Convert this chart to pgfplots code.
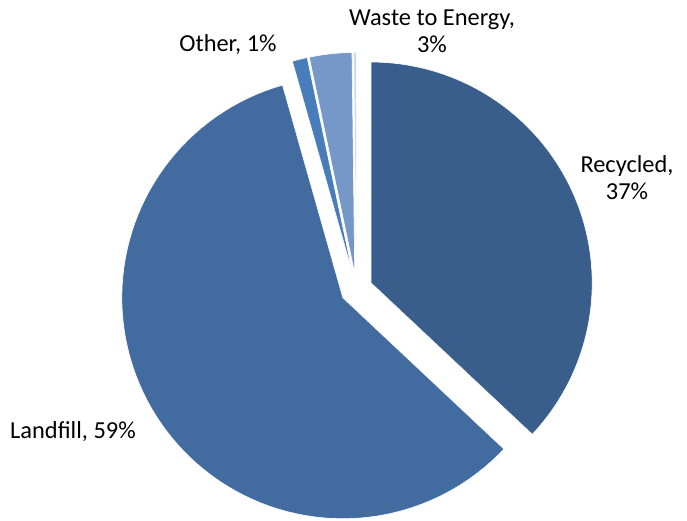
\documentclass[border=0pt]{standalone}
\usepackage{pgfplots}
\usepackage{pgfplotstable}
\pgfplotsset{compat=1.18}
\usepackage{fontspec}
\setmainfont{Carlito}
\definecolor{cRec}{RGB}{58,94,140}
\definecolor{cLand}{RGB}{66,108,160}
\definecolor{cOth}{RGB}{72,124,186}
\definecolor{cWte}{RGB}{118,152,200}
\definecolor{cTiny}{RGB}{205,216,236}

\pgfplotstableread{
label value
Recycled 37.0
Landfill 58.6
Other 1.1
WtE 3.1
Minor 0.2
}\piedata

\newcommand\getv[2]{\pgfplotstablegetelem{#1}{value}\of\piedata\let#2\pgfplotsretval}
\getv{0}\vA \getv{1}\vB \getv{2}\vC \getv{3}\vD \getv{4}\vE
\pgfmathsetmacro\aA{90}
\pgfmathsetmacro\aB{\aA-3.6*\vA}
\pgfmathsetmacro\aC{\aB-3.6*\vB}
\pgfmathsetmacro\aD{\aC-3.6*\vC}
\pgfmathsetmacro\aE{\aD-3.6*\vD}
\pgfmathsetmacro\aF{\aE-3.6*\vE}
\def\cx{356.5}
\def\cy{231.6}
\def\R{221}
\def\dd{16}

% slice: start, end, color
\newcommand\slice[3]{%
  \addplot[fill=#3, draw=white, line width=0.6pt, domain=#2:#1, samples=90, variable=\t]
    ({\cx+\dd*cos((#1+#2)/2)+\R*cos(\t)}, {\cy+\dd*sin((#1+#2)/2)+\R*sin(\t)})
    -- (axis cs:{\cx+\dd*cos((#1+#2)/2)}, {\cy+\dd*sin((#1+#2)/2)}) -- cycle;
}

\begin{document}
\begin{tikzpicture}
\begin{axis}[width=687bp, height=521bp, scale only axis,
  xmin=0, xmax=687, ymin=0, ymax=521, hide axis, clip=false]
\slice{\aA}{\aB}{cRec}
\slice{\aB}{\aC}{cLand}
\slice{\aC}{\aD}{cOth}
\slice{\aD}{\aE}{cWte}
\slice{\aE}{\aF}{cTiny}
\path (axis cs:0,0) (axis cs:687,521);
\begin{scope}[every node/.style={font=\fontsize{24.5}{27}\selectfont, align=center, text=black}]
\node at (axis cs:627,343) {Recycled,\\37\%};
\node at (axis cs:432,490) {Waste to Energy,\\3\%};
\node at (axis cs:228,476) {Other, 1\%};
\node at (axis cs:73,89) {Landfill, 59\%};
\end{scope}
\end{axis}
\end{tikzpicture}
\end{document}
